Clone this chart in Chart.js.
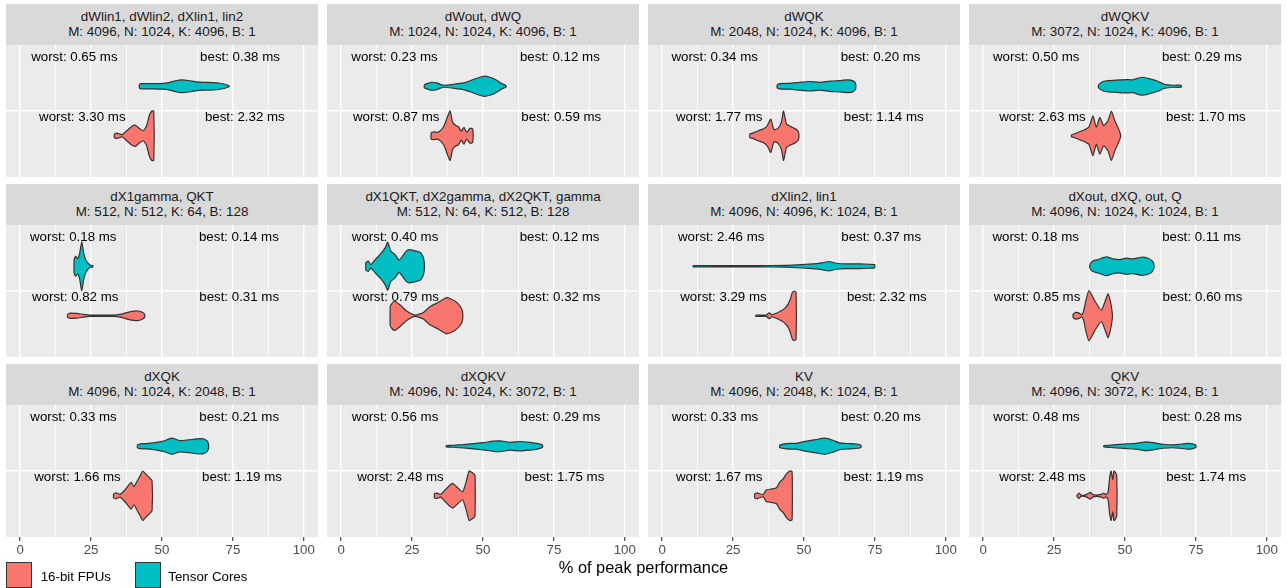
<!DOCTYPE html>
<html><head><meta charset="utf-8">
<script src="https://cdn.jsdelivr.net/npm/chart.js@4.4.1/dist/chart.umd.min.js"></script>
<style>
html,body{margin:0;padding:0;background:#fff;}
#root{position:relative;width:1287px;height:588px;overflow:hidden;font-family:"Liberation Sans",Arial,Helvetica,sans-serif;}
.strip{position:absolute;background:#D9D9D9;color:#1A1A1A;font-size:13.4px;line-height:14.4px;text-align:center;display:flex;flex-direction:column;justify-content:center;}
canvas{position:absolute;}
.key{position:absolute;box-sizing:border-box;border:1px solid #333333;width:26px;height:26px;top:562px;}
.ktxt{position:absolute;font-size:13.3px;line-height:16px;top:568.5px;color:#000;}
#xtitle{position:absolute;left:0;width:1287px;text-align:center;font-size:16.4px;line-height:19px;top:557.5px;color:#000;}
</style></head><body><div id="root"></div>
<script>
// ---------- data ----------
const panelTitles = ["dWlin1, dWlin2, dXlin1, lin2", "dWout, dWQ", "dWQK", "dWQKV",
  "dX1gamma, QKT", "dX1QKT, dX2gamma, dX2QKT, gamma", "dXlin2, lin1", "dXout, dXQ, out, Q",
  "dXQK", "dXQKV", "KV", "QKV"];
const panelShapes = ["M: 4096, N: 1024, K: 4096, B: 1", "M: 1024, N: 1024, K: 4096, B: 1",
  "M: 2048, N: 1024, K: 4096, B: 1", "M: 3072, N: 1024, K: 4096, B: 1",
  "M: 512, N: 512, K: 64, B: 128", "M: 512, N: 64, K: 512, B: 128",
  "M: 4096, N: 4096, K: 1024, B: 1", "M: 4096, N: 1024, K: 1024, B: 1",
  "M: 4096, N: 1024, K: 2048, B: 1", "M: 4096, N: 1024, K: 3072, B: 1",
  "M: 4096, N: 2048, K: 1024, B: 1", "M: 4096, N: 3072, K: 1024, B: 1"];
const worstTensor = ["0.65","0.23","0.34","0.50","0.18","0.40","2.46","0.18","0.33","0.56","0.33","0.48"];
const bestTensor  = ["0.38","0.12","0.20","0.29","0.14","0.12","0.37","0.11","0.21","0.29","0.20","0.28"];
const worstFPU    = ["3.30","0.87","1.77","2.63","0.82","0.79","3.29","0.85","1.66","2.48","1.67","2.48"];
const bestFPU     = ["2.32","0.59","1.14","1.70","0.31","0.32","2.32","0.60","1.19","1.75","1.19","1.74"];
const seriesNames = ["16-bit FPUs", "Tensor Cores"];
const xTickValues = [0, 12.5, 25, 37.5, 50, 62.5, 75, 87.5, 100];

// violin profiles: [% of peak, density half-width]
const tc1 = [[42.0,.014],[42.5,.023],[46,.024],[50.5,.027],[52.8,.036],[55.2,.052],[56.9,.058],[59.3,.052],[62.2,.040],[64.6,.036],[68.1,.033],[70.4,.027],[72.2,.018],[73.7,.003]];
const fp1 = [[33.2,.015],[34.0,.024],[35.0,.018],[35.9,.009],[37.6,.046],[39.3,.085],[40.5,.097],[42.0,.067],[43.4,.046],[44.6,.091],[45.5,.182],[46.4,.225],[47.1,.225]];
const tc2 = [[29.3,.012],[30.2,.024],[31.9,.036],[33.7,.030],[35.2,.015],[36.3,.009],[39.6,.018],[43.1,.030],[46.6,.061],[50.1,.091],[52.5,.082],[54.8,.055],[56.6,.024],[58.1,.006]];
const fp2 = [[31.7,.030],[32.7,.036],[33.9,.030],[35.1,.049],[36.3,.091],[37.4,.167],[38.4,.225],[39.3,.122],[40.5,.091],[41.4,.082],[42.3,.040],[43.3,.076],[44.2,.030],[45.4,.067],[46.4,.061]];
const tc3 = [[40.5,.012],[41.4,.024],[45.0,.027],[48.5,.036],[52.0,.043],[55.5,.036],[59.0,.046],[62.6,.052],[65.5,.058],[67.3,.049],[68.2,.024]];
const fp3 = [[30.9,.018],[32.0,.024],[33.8,.046],[35.6,.061],[37.0,.091],[38.3,.152],[39.4,.055],[40.8,.067],[42.0,.122],[42.8,.225],[43.8,.106],[45.2,.085],[46.7,.067],[47.9,.043],[48.2,.012]];
const tc4 = [[40.6,.009],[41.1,.024],[42.3,.043],[44.0,.052],[46.9,.055],[50.5,.061],[52.8,.058],[55.8,.082],[58.7,.067],[61.6,.046],[63.6,.021],[65.1,.012],[67.5,.009],[69.8,.009]];
const fp4 = [[31.1,.009],[32.3,.018],[34.0,.036],[35.8,.055],[37.3,.079],[38.7,.182],[39.9,.076],[41.1,.167],[42.5,.091],[44.0,.137],[45.2,.225],[46.4,.137],[47.5,.076],[48.4,.015]];
const tc5 = [[19.0,.060],[19.5,.090],[20.3,.070],[21.0,.120],[21.7,.225],[22.4,.120],[23.1,.060],[23.8,.030],[24.6,.012],[25.6,.006]];
const fp5 = [[16.7,.012],[17.6,.024],[20.0,.021],[22.3,.012],[24.6,.006],[28.2,.006],[32.9,.006],[35.2,.012],[37.0,.024],[39.3,.040],[41.7,.043],[43.2,.030],[43.9,.012]];
const tc6 = [[8.7,.036],[9.6,.046],[10.4,.015],[12.0,.061],[13.7,.106],[15.5,.167],[16.4,.219],[17.5,.137],[19.0,.106],[20.4,.055],[21.6,.091],[22.9,.137],[24.1,.152],[26.1,.140],[27.8,.128],[28.8,.091],[29.3,.036]];
const fp6 = [[17.3,.091],[18.7,.134],[20.8,.097],[23.1,.043],[26.1,.006],[29.0,.030],[31.3,.082],[34.3,.122],[37.2,.164],[40.1,.134],[42.1,.082],[42.8,.036]];
const tc7 = [[10.9,.006],[21.5,.006],[33.2,.006],[43.8,.008],[47.3,.012],[50.8,.018],[54.3,.024],[56.7,.033],[58.8,.043],[61.4,.027],[64.9,.021],[69.6,.021],[73.1,.018],[74.9,.015]];
const fp7 = [[33.0,.006],[35.0,.006],[36.7,.006],[37.7,.027],[38.6,.009],[39.7,.018],[40.8,.030],[42.0,.046],[43.2,.067],[44.4,.106],[45.2,.152],[45.9,.213],[46.6,.225],[47.2,.213]];
const tc8 = [[37.6,.015],[38.5,.046],[40.5,.061],[43.4,.085],[45.8,.067],[48.1,.061],[50.5,.073],[52.8,.067],[55.8,.082],[58.1,.073],[59.6,.049],[60.2,.018]];
const fp8 = [[31.7,.015],[32.6,.030],[33.8,.024],[34.7,.009],[35.4,.040],[36.2,.137],[37.3,.228],[39.3,.137],[41.7,.052],[44.0,.198],[44.8,.137],[45.5,.030]];
const tc9 = [[41.3,.012],[42.3,.021],[44.6,.024],[46.9,.030],[50.5,.046],[53.4,.073],[56.3,.052],[59.3,.058],[62.2,.067],[64.6,.067],[66.0,.046],[66.4,.018]];
const fp9 = [[32.9,.015],[33.7,.027],[34.4,.021],[35.2,.012],[36.6,.043],[38.1,.091],[39.1,.122],[40.1,.082],[41.3,.137],[42.3,.182],[43.2,.225],[44.6,.188],[45.8,.158],[46.5,.137]];
const tc10 = [[37.0,.006],[39.6,.009],[43.1,.015],[46.6,.024],[50.1,.033],[53.6,.046],[56.0,.049],[59.5,.036],[63.0,.043],[66.5,.036],[69.5,.024],[71.0,.009]];
const fp10 = [[32.9,.021],[33.9,.024],[35.1,.012],[36.6,.052],[38.1,.091],[39.3,.112],[40.7,.082],[42.8,.036],[44.0,.122],[45.1,.225],[46.0,.213],[46.8,.198],[47.2,.182]];
const tc11 = [[41.4,.012],[43.8,.024],[47.3,.027],[50.8,.046],[54.3,.061],[57.3,.073],[60.2,.055],[62.6,.030],[66.1,.024],[69.0,.018],[70.1,.009]];
const fp11 = [[32.6,.018],[33.5,.027],[34.4,.018],[35.6,.009],[36.7,.052],[38.5,.061],[40.3,.073],[41.4,.122],[42.6,.152],[43.8,.198],[45.0,.225],[45.8,.219]];
const tc12 = [[42.5,.006],[45.8,.012],[50.5,.021],[54.0,.027],[57.5,.040],[59.9,.033],[63.4,.018],[66.9,.012],[69.2,.018],[72.2,.027],[73.9,.021],[75.0,.009]];
const fp12 = [[33.1,.006],[33.8,.024],[34.5,.006],[35.8,.006],[36.9,.018],[37.8,.030],[38.6,.012],[40.1,.006],[41.8,.015],[42.5,.024],[43.2,.009],[44.0,.030],[44.6,.167],[45.1,.225],[45.7,.146],[46.1,.225],[46.6,.213],[47.1,.182]];
const tensorViolins = [tc1,tc2,tc3,tc4,tc5,tc6,tc7,tc8,tc9,tc10,tc11,tc12];
const fpuViolins = [fp1,fp2,fp3,fp4,fp5,fp6,fp7,fp8,fp9,fp10,fp11,fp12];

// annotation anchor positions (x in % of peak)
const worstTensorAt = [19.1,18.8,18.5,18.7,18.7,19.0,20.8,18.5,18.8,19.0,18.6,18.8];
const bestTensorAt  = [77.5,77.1,77.0,77.1,77.1,77.0,77.2,77.0,77.2,77.3,77.1,77.1];
const worstFPUAt    = [21.9,19.4,20.1,20.9,19.4,19.2,21.6,19.0,20.2,20.9,20.1,20.9];
const bestFPUAt     = [79.2,77.6,78.1,78.5,77.2,77.3,79.2,77.3,78.2,78.7,78.0,78.6];

// ---------- layout / style ----------
const FONT = '"Liberation Sans", Arial, Helvetica, sans-serif';
const COLORS = {fpu:'#F8766D', tensor:'#00BFC4', edge:'#333333'};
const lefts = [6,327,648,969], PW = 312, stripTops = [4,184,364], stripH = 41, panelTops = [45,225,405], PH = 132;
const tensorPos = 0.225, fpuPos = -0.225, topLabelY = 0.49, botLabelY = -0.057;

Chart.defaults.font.family = FONT;
Chart.defaults.font.size = 13.3;

const root = document.getElementById('root');

function outline(profile, c) {
  const up = profile.map(p => ({x: p[0], y: c + p[1]}));
  const dn = profile.slice().reverse().map(p => ({x: p[0], y: c - p[1]}));
  const pts = up.concat(dn);
  pts.push({x: pts[0].x, y: pts[0].y});
  return pts;
}

const bgPlugin = {
  id: 'panelBg',
  beforeDraw(chart) {
    const a = chart.chartArea, ctx = chart.ctx;
    ctx.save(); ctx.fillStyle = '#EBEBEB';
    ctx.fillRect(a.left, a.top, a.right - a.left, a.bottom - a.top);
    ctx.restore();
  }
};

for (let i = 0; i < 12; i++) {
  const r = Math.floor(i / 4), c = i % 4;
  const strip = document.createElement('div');
  strip.className = 'strip';
  Object.assign(strip.style, {left: lefts[c] + 'px', top: stripTops[r] + 'px', width: PW + 'px', height: stripH + 'px'});
  const l1 = document.createElement('div'); l1.textContent = panelTitles[i];
  const l2 = document.createElement('div'); l2.textContent = panelShapes[i];
  strip.appendChild(l1); strip.appendChild(l2);
  root.appendChild(strip);

  const bottom = r === 2;
  const axisH = bottom ? 24 : 0;
  const cv = document.createElement('canvas');
  cv.width = PW; cv.height = PH + axisH;
  Object.assign(cv.style, {left: lefts[c] + 'px', top: panelTops[r] + 'px', width: PW + 'px', height: (PH + axisH) + 'px'});
  root.appendChild(cv);

  const labels = [
    {x: worstTensorAt[i], y: topLabelY, t: 'worst: ' + worstTensor[i] + ' ms'},
    {x: bestTensorAt[i],  y: topLabelY, t: 'best: ' + bestTensor[i] + ' ms'},
    {x: worstFPUAt[i],    y: botLabelY, t: 'worst: ' + worstFPU[i] + ' ms'},
    {x: bestFPUAt[i],     y: botLabelY, t: 'best: ' + bestFPU[i] + ' ms'}
  ];
  const textPlugin = {
    id: 'annot' + i,
    afterDatasetsDraw(chart) {
      const ctx = chart.ctx, xs = chart.scales.x, ys = chart.scales.y;
      ctx.save();
      ctx.font = '13.3px ' + FONT;
      ctx.fillStyle = '#000000';
      ctx.textAlign = 'center';
      ctx.textBaseline = 'middle';
      labels.forEach(l => ctx.fillText(l.t, xs.getPixelForValue(l.x), ys.getPixelForValue(l.y)));
      ctx.restore();
    }
  };

  const ds = (profile, pos, color, name) => ({
    label: name,
    data: outline(profile, pos),
    showLine: true,
    fill: 'shape',
    backgroundColor: color,
    borderColor: COLORS.edge,
    borderWidth: 1.2,
    borderJoinStyle: 'round',
    pointRadius: 0,
    pointHoverRadius: 0,
    tension: 0.18
  });

  new Chart(cv, {
    type: 'scatter',
    data: {datasets: [
      ds(tensorViolins[i], tensorPos, COLORS.tensor, seriesNames[1]),
      ds(fpuViolins[i], fpuPos, COLORS.fpu, seriesNames[0])
    ]},
    options: {
      responsive: false,
      animation: false,
      events: [],
      layout: {padding: 0},
      plugins: {legend: {display: false}, tooltip: {enabled: false}, title: {display: false}},
      scales: {
        x: {
          type: 'linear', min: -5, max: 105, position: 'bottom',
          afterBuildTicks: s => { s.ticks = xTickValues.map(v => ({value: v})); },
          afterFit: s => { s.height = axisH; s.paddingLeft = 0; s.paddingRight = 0; },
          border: {display: false},
          grid: {
            color: '#FFFFFF',
            lineWidth: ctx => (ctx.tick && ctx.tick.value % 25 === 0) ? 1.4 : 0.7,
            drawTicks: bottom,
            tickLength: 4,
            tickWidth: 1.1,
            tickColor: ctx => (ctx.tick && ctx.tick.value % 25 === 0) ? '#333333' : 'rgba(0,0,0,0)'
          },
          ticks: {
            display: bottom, autoSkip: false, maxRotation: 0, padding: 1,
            color: '#4D4D4D', font: {size: 13.3},
            callback: v => (v % 25 === 0 ? String(v) : '')
          }
        },
        y: {
          type: 'linear', min: -0.6, max: 0.6, position: 'left',
          afterBuildTicks: s => { s.ticks = [{value: 0}]; },
          afterFit: s => { s.width = 0; s.paddingTop = 0; s.paddingBottom = 0; },
          border: {display: false},
          grid: {color: '#FFFFFF', lineWidth: 1.4, drawTicks: false},
          ticks: {display: false}
        }
      }
    },
    plugins: [bgPlugin, textPlugin]
  });
}

// legend + axis title
const legendItems = [
  {name: seriesNames[0], color: COLORS.fpu, keyX: 6, txtX: 40.7},
  {name: seriesNames[1], color: COLORS.tensor, keyX: 135, txtX: 168.3}
];
legendItems.forEach(it => {
  const k = document.createElement('div'); k.className = 'key';
  k.style.left = it.keyX + 'px'; k.style.background = it.color; root.appendChild(k);
  const t = document.createElement('div'); t.className = 'ktxt';
  t.style.left = it.txtX + 'px'; t.textContent = it.name; root.appendChild(t);
});
const xt = document.createElement('div'); xt.id = 'xtitle'; xt.textContent = '% of peak performance';
root.appendChild(xt);
</script></body></html>
